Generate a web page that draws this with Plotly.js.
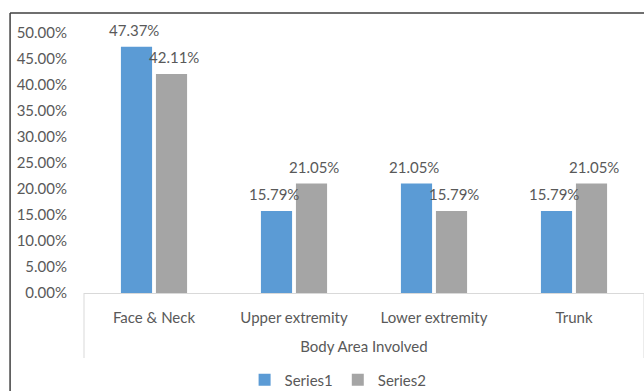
<!DOCTYPE html>
<html>
<head>
<meta charset="utf-8">
<script src="https://cdn.plot.ly/plotly-3.0.1.min.js"></script>
<style>
  html, body { margin: 0; padding: 0; background: #ffffff; }
  #chart { width: 644px; height: 391px; }
</style>
</head>
<body>
<div id="chart"></div>
<script>
// Body area involved, share of cases per series
const categories = ['Face & Neck', 'Upper extremity', 'Lower extremity', 'Trunk'];
const series1 = [47.37, 15.79, 21.05, 15.79];
const series2 = [42.11, 21.05, 15.79, 21.05];
const seriesNames = ['Series1', 'Series2'];
const yTickValues = [0, 5, 10, 15, 20, 25, 30, 35, 40, 45, 50];

const FONT = 'Lato, "Open Sans", sans-serif';
const TEXT_COLOR = '#595959';
const BLUE = '#5B9BD5';
const GRAY = '#A5A5A5';
const FS = 15;

const fmt = v => v.toFixed(2) + '%';

const traces = [
  { type: 'bar', name: seriesNames[0], x: categories, y: series1,
    marker: { color: BLUE }, hoverinfo: 'skip' },
  { type: 'bar', name: seriesNames[1], x: categories, y: series2,
    marker: { color: GRAY }, hoverinfo: 'skip' }
];

// value labels sitting above each bar
const annotations = [];
[series1, series2].forEach((vals, s) => {
  vals.forEach((v, i) => {
    annotations.push({
      x: categories[i], y: v, xref: 'x', yref: 'y',
      text: fmt(v), showarrow: false,
      xshift: s === 0 ? -20 : 20, yshift: 6, yanchor: 'bottom',
      font: { family: FONT, size: FS, color: TEXT_COLOR }
    });
  });
});

const layout = {
  width: 644, height: 391,
  margin: { l: 84, r: 0, t: 33, b: 98, autoexpand: false },
  paper_bgcolor: '#ffffff', plot_bgcolor: '#ffffff',
  font: { family: FONT, size: FS, color: TEXT_COLOR },
  showlegend: true,
  barmode: 'group',
  bargap: 0.5,
  bargroupgap: 0.11,
  xaxis: {
    type: 'category',
    range: [-0.5, 3.5],
    automargin: false,
    showgrid: false, zeroline: false,
    showline: true, linecolor: '#D9D9D9', linewidth: 1,
    ticks: '', ticklabelstandoff: 11,
    tickfont: { family: FONT, size: FS, color: TEXT_COLOR },
    title: { text: 'Body Area Involved', standoff: 16,
             font: { family: FONT, size: FS, color: TEXT_COLOR } }
  },
  yaxis: {
    range: [0, 50],
    automargin: false,
    tickvals: yTickValues,
    ticktext: yTickValues.map(fmt),
    showgrid: false, zeroline: false, showline: false,
    ticks: '', ticklabelstandoff: 16,
    tickfont: { family: FONT, size: FS, color: TEXT_COLOR }
  },
  legend: {
    orientation: 'h', xref: 'container', yref: 'container',
    x: 0.525, xanchor: 'center', y: 0.028, yanchor: 'middle',
    font: { family: FONT, size: FS, color: TEXT_COLOR },
    itemwidth: 30, traceorder: 'normal', bgcolor: 'rgba(0,0,0,0)'
  },
  annotations: annotations,
  shapes: [
    // category group brackets below the axis
    { type: 'line', xref: 'paper', yref: 'paper', x0: 0, x1: 0, y0: 0, y1: -0.25,
      line: { color: '#D9D9D9', width: 1 } },
    { type: 'line', xref: 'paper', yref: 'paper', x0: 1, x1: 1, y0: 0, y1: -0.25,
      line: { color: '#D9D9D9', width: 1 } },
    // chart frame
    { type: 'line', xref: 'paper', yref: 'paper', x0: -0.132, x1: 1.1, y0: 1.077, y1: 1.077,
      line: { color: '#3F3F3F', width: 1.5 } },
    { type: 'line', xref: 'paper', yref: 'paper', x0: -0.132, x1: -0.132, y0: 1.077, y1: -0.5,
      line: { color: '#3F3F3F', width: 1.5 } }
  ]
};

Plotly.newPlot('chart', traces, layout, { displayModeBar: false, staticPlot: true });
</script>
</body>
</html>
